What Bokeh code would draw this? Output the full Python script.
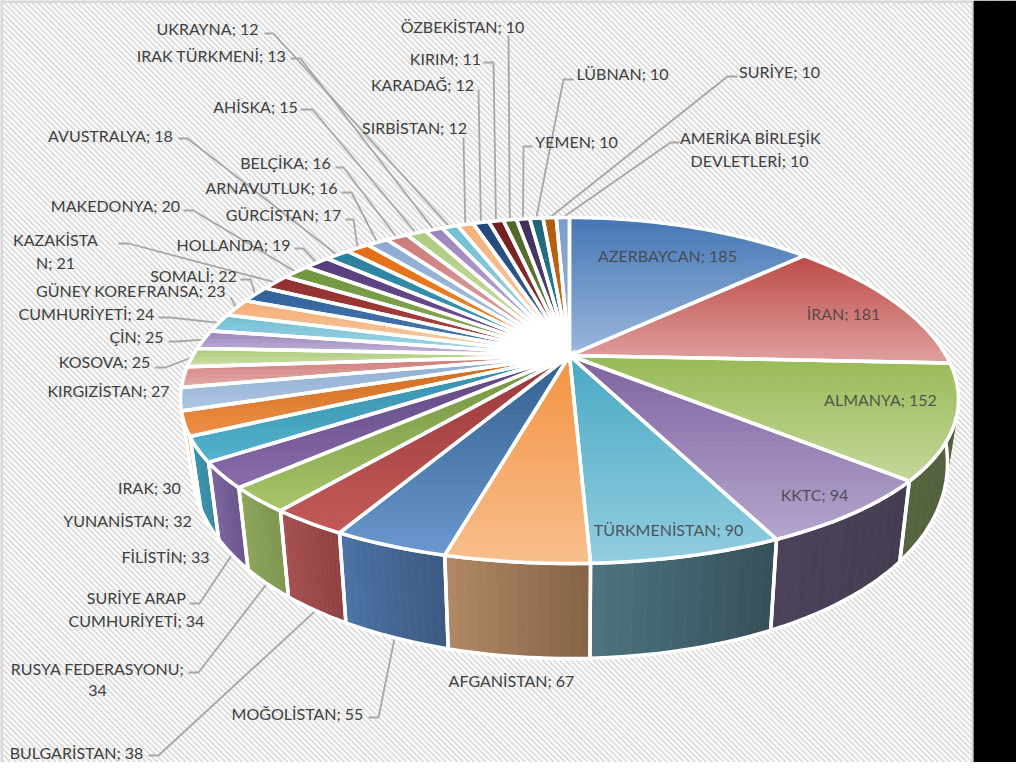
import numpy as np
from bokeh.plotting import figure
from bokeh.core.properties import value as cval
from bokeh.embed import file_html
from bokeh.resources import INLINE

# ---------- data ----------
countries = ["AZERBAYCAN","İRAN","ALMANYA","KKTC","TÜRKMENİSTAN","AFGANİSTAN","MOĞOLİSTAN","BULGARİSTAN",
             "RUSYA FEDERASYONU","SURİYE ARAP CUMHURİYETİ","FİLİSTİN","YUNANİSTAN","IRAK","KIRGIZİSTAN","KOSOVA","ÇİN",
             "GÜNEY KORE CUMHURİYETİ","FRANSA","SOMALİ","KAZAKİSTAN","MAKEDONYA","HOLLANDA","AVUSTRALYA","GÜRCİSTAN",
             "ARNAVUTLUK","BELÇİKA","AHİSKA","IRAK TÜRKMENİ","UKRAYNA","SIRBİSTAN","KARADAĞ","KIRIM",
             "ÖZBEKİSTAN","LÜBNAN","YEMEN","SURİYE","AMERİKA BİRLEŞİK DEVLETLERİ"]
values = [185,181,152,94,90,67,55,38,34,34,33,32,30,27,25,25,24,23,22,21,20,19,18,17,16,16,15,13,12,12,12,11,10,10,10,10,10]

# ---------- styles ----------
top_dark = ["#4577B5","#BC4A47","#98B956","#7E62A0","#49A9C4","#F39343",
            "#33608F","#98383A","#6F8F3E","#5A4480","#2F8AA8","#CC6A1E",
            "#8CAAD2","#CC7876","#ABC878","#9A82BC","#6DBCD2","#F4AC72",
            "#2F6099","#8E2F2E","#6F9440","#573E7A","#2A7F9B","#E26C14",
            "#8DAAD3","#CB7B79","#AECB7E","#9B84BD","#70BED3","#F5B07A",
            "#1F4876","#70201F","#4C6527","#3E2F58","#1E6478","#AE5A0E","#7C9DCC"]
top_light = ["#9BB7DC","#E0A09F","#C4D89A","#B5A6CD","#93CDE0","#F8BE8C",
             "#6A98CF","#C45A58","#A9C66A","#8C6DAB","#55B3CC","#EE8F45",
             "#AEC6E3","#E4ACAB","#CEE0A8","#C4B6D9","#A8DBE9","#FBD0AC",
             "#4F80B8","#B44643","#8CAF56","#7355A0","#3F9FBB","#F58C2E",
             "#AEC5E2","#E3ACAB","#CEDFAA","#C3B5D9","#A8DAE8","#FAD0AE",
             "#3A6CA4","#9A3735","#6D8B3E","#5F4A83","#31869E","#D47318","#9AB6DC"]
wall_left = {2:"#566540",3:"#4B4159",4:"#4C737E",5:"#AF8764",6:"#4B73A5",7:"#A55050",8:"#8CA55A",9:"#7D64A0",10:"#3C96AF",11:"#E18C46"}
wall_right = {2:"#4B5A37",3:"#463C50",4:"#37505A",5:"#876446",6:"#3C5A82",7:"#914141",8:"#7D9650",9:"#69558C",10:"#3787A0",11:"#D88440"}

FONT = "Lato"
FS = "16px"
TEXT = "#404040"

# label text: (line, center x, center y, inner?)
label_rows = [
 ("AZERBAYCAN; 185",667,255,1),("İRAN; 181",843,313,1),("ALMANYA; 152",880,399,1),("KKTC; 94",814,494,1),
 ("TÜRKMENİSTAN; 90",668,529,1),("AFGANİSTAN; 67",511,680,0),("MOĞOLİSTAN; 55",297,713,0),("BULGARİSTAN; 38",76,752,0),
 ("RUSYA FEDERASYONU;",97,668,0),("34",97,690,0),("SURİYE ARAP",136,597,0),("CUMHURİYETİ; 34",136,620,0),
 ("FİLİSTİN; 33",165,556,0),("YUNANİSTAN; 32",127,520,0),("IRAK; 30",149,487,0),("KIRGIZİSTAN; 27",108,390,0),
 ("KOSOVA; 25",104,361,0),("ÇİN; 25",136,336,0),("CUMHURİYETİ; 24",86,313,0),("GÜNEY KORE",86,290,0),("FRANSA; 23",181,290,0),
 ("SOMALİ; 22",193,275,0),("KAZAKİSTA",55,239,0),("N; 21",55,262,0),("HOLLANDA; 19",233,244,0),("MAKEDONYA; 20",115,205,0),
 ("GÜRCİSTAN; 17",283,214,0),("ARNAVUTLUK; 16",271,187,0),("BELÇİKA; 16",285,162,0),("AVUSTRALYA; 18",110,135,0),
 ("AHİSKA; 15",255,106,0),("IRAK TÜRKMENİ; 13",211,55,0),("UKRAYNA; 12",207,28,0),("SIRBİSTAN; 12",414,127,0),
 ("KARADAĞ; 12",422,84,0),("KIRIM; 11",445,58,0),("ÖZBEKİSTAN; 10",462,26,0),("LÜBNAN; 10",622,73,0),("YEMEN; 10",576,141,0),
 ("SURİYE; 10",779,71,0),("AMERİKA BİRLEŞİK",750,137,0),("DEVLETLERİ; 10",749,160,0),
]
# leader routing: slice index -> elbow points next to the label (start, bend)
leaders = {
 36:[(679,142),(670,142)],35:[(737,76),(727,76)],34:[(573,79),(563,79)],33:[(532,146),(523,146)],
 32:[(508,35)],31:[(483,62),(493,62)],30:[(478,89)],29:[(463,137)],
 28:[(264,33),(273,33)],27:[(290,58),(300,58)],26:[(300,109),(312,109)],25:[(335,167),(343,167)],
 24:[(341,192),(351,192)],23:[(345,219),(353,219)],22:[(178,138),(187,138)],21:[(294,248),(303,248)],
 20:[(183,210),(193,210)],19:[(118,243),(128,243)],18:[(240,279),(250,279)],17:[(230,297)],
 16:[(158,317),(170,317)],15:[(168,341),(177,341)],14:[(155,367),(165,367)],
 9:[(189,603),(199,603)],8:[(188,672),(198,672)],7:[(148,755),(158,755)],6:[(368,717),(378,717)],
}
front_leaders = {9,8,7,6}

# ---------- geometry ----------
CX, CY = 569.0, 355.0
A, B, K, KX = 376.6, 165.9, 0.2023, 0.25
total = sum(values)
edges = np.cumsum([0] + values) / total * 2 * np.pi

def top_rim(t):
    u, v = np.sin(t), -np.cos(t)
    return CX + A * u / (1 - KX * v), CY + B * v / (1 - K * v)

def bot_rim(t):
    u, v = np.sin(t), -np.cos(t)
    return CX + 0.972 * A * u / (1 - KX * v), CY + B * v / (1 - K * v) + 53 + 42 * v

def hex2rgb(h):
    return np.array([int(h[i:i+2], 16) for i in (1, 3, 5)], float)

def mix(a, b, f):
    c = hex2rgb(a) * (1 - f) + hex2rgb(b) * f
    return "#%02x%02x%02x" % tuple(int(round(x)) for x in c)

def clip_y(poly, y0, y1):
    def clip(pts, inside, cross):
        out = []
        for i in range(len(pts)):
            p, q = pts[i], pts[(i + 1) % len(pts)]
            if inside(p):
                out.append(p)
            if inside(p) != inside(q):
                out.append(cross(p, q))
        return out
    def at(y):
        return lambda p, q: (p[0] + (q[0] - p[0]) * (y - p[1]) / (q[1] - p[1]), y)
    pts = clip(poly, lambda p: p[1] >= y0, at(y0))
    if pts:
        pts = clip(pts, lambda p: p[1] <= y1, at(y1))
    return pts

# ---------- figure ----------
W, H = 1016, 762
p = figure(width=W, height=H, x_range=(0, W), y_range=(H, 0), output_backend="svg",
           toolbar_location=None, min_border=0)
p.axis.visible = False
p.grid.visible = False
p.outline_line_color = None
p.background_fill_color = "white"
p.border_fill_color = "white"

# background
offs = np.arange(-780, 1040, 5.66)
p.multi_line([[o, o + 780] for o in offs], [[0, 780] for _ in offs], line_color="#dedede", line_width=2.1)
p.quad(left=[973], right=[W], top=[0], bottom=[H], fill_color="black", line_color=None)
p.multi_line([[1, 1], [0, 972]], [[0, H], [1, 1]], line_color="#d9d9d9", line_width=3)
p.segment([972], [0], [972], [H], line_color="#d0d0d0", line_width=1.5)

# leaders
lx, ly = [], []
for idx, pts in leaders.items():
    mid = (edges[idx] + edges[idx + 1]) / 2
    ex, ey = bot_rim(mid) if idx in front_leaders else top_rim(mid)
    lx.append([q[0] for q in pts] + [float(ex)])
    ly.append([q[1] for q in pts] + [float(ey)])
p.multi_line(lx, ly, line_color="#a6a6a6", line_width=1.8)

# walls
wx, wy, wc, ox, oy = [], [], [], [], []
for i in wall_left:
    t = np.linspace(edges[i], edges[i + 1], 15)
    xt, yt = top_rim(t)
    xb, yb = bot_rim(t)
    for j in range(len(t) - 1):
        f = j / (len(t) - 2)
        wx.append([xt[j], xt[j + 1], xb[j + 1], xb[j]])
        wy.append([yt[j], yt[j + 1], yb[j + 1], yb[j]])
        wc.append(mix(wall_right[i], wall_left[i], f))
    ox.append(list(xt) + list(xb[::-1]))
    oy.append(list(yt) + list(yb[::-1]))
p.patches(wx, wy, fill_color=wc, line_color=wc, line_width=0.7)
p.patches(ox, oy, fill_color=None, line_color="white", line_width=3.5, line_join="miter")

# top surface with vertical gradient bands
bx, by, bc, sx, sy = [], [], [], [], []
for i in range(len(values)):
    t = np.linspace(edges[i], edges[i + 1], max(3, int((edges[i + 1] - edges[i]) * 60)))
    xr, yr = top_rim(t)
    poly = [(CX, CY)] + list(zip(xr.tolist(), yr.tolist()))
    sx.append([q[0] for q in poly])
    sy.append([q[1] for q in poly])
    y0, y1 = min(q[1] for q in poly), max(q[1] for q in poly)
    n = int(max(2, min(30, (y1 - y0) / 4)))
    ys = np.linspace(y0, y1, n + 1)
    for j in range(n):
        c = clip_y(poly, ys[j], ys[j + 1] + (0.4 if j < n - 1 else 0))
        if len(c) >= 3:
            bx.append([q[0] for q in c])
            by.append([q[1] for q in c])
            bc.append(mix(top_dark[i], top_light[i], (j + 0.5) / n))
p.patches(bx, by, fill_color=bc, line_color=bc, line_width=0.6)
p.patches(sx, sy, fill_color=None, line_color="white", line_width=3.5, line_join="miter")

# labels
p.text([r[1] for r in label_rows], [r[2] for r in label_rows], text=[r[0] for r in label_rows],
       text_font=cval(FONT), text_font_size=FS, text_color=TEXT,
       text_alpha=[0.85 if r[3] else 1.0 for r in label_rows], text_align="center", text_baseline="middle")

open("out.html", "w").write(file_html(p, INLINE))
